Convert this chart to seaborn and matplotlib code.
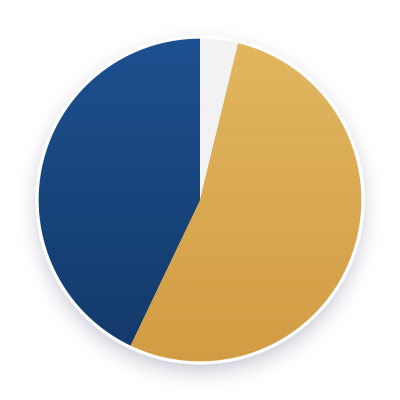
import numpy as np
import matplotlib
matplotlib.use("Agg")
import matplotlib.pyplot as plt
from matplotlib.colors import LinearSegmentedColormap, to_rgb
import seaborn as sns

# slice data (clockwise from 12 o'clock)
labels = ["Other", "Gold", "Blue"]
values = [3.8, 53.3, 42.9]
top_colors = ["#f2f2f3", "#e1b760", "#1d5090"]
bottom_colors = ["#f2f2f3", "#d29c44", "#133968"]

sns.set_theme(style="white")

fig = plt.figure(figsize=(4, 4), dpi=100)
ax = fig.add_axes([0, 0, 1, 1])
lim = 200 / 163
ax.set_xlim(-lim, lim)
ax.set_ylim(-lim, lim)
ax.set_aspect("equal")
ax.axis("off")

# soft drop shadow
n = 400
xs = np.linspace(-lim, lim, n)
X, Y = np.meshgrid(xs, xs)
d = np.hypot(X, Y + 0.05)
a = np.clip(1 - (d - 0.95) / 0.2, 0, 1) ** 2.2 * 0.32
shadow = np.zeros((n, n, 4))
shadow[..., :3] = to_rgb("#5c5f82")
shadow[..., 3] = a
ax.imshow(shadow, extent=(-lim, lim, -lim, lim), origin="lower", zorder=0)

wedges, _ = ax.pie(values, startangle=90, counterclock=False, radius=1,
                   colors=top_colors, wedgeprops=dict(linewidth=0))

grad = np.linspace(0, 1, 256).reshape(-1, 1)
for w, c1, c2 in zip(wedges, top_colors, bottom_colors):
    cmap = LinearSegmentedColormap.from_list("g", [c2, c1])
    im = ax.imshow(grad, cmap=cmap, extent=(-1, 1, -1, 1), origin="lower",
                   aspect="auto", zorder=2)
    im.set_clip_path(w)

border = plt.Circle((0, 0), 1, fill=False, ec="white", lw=2.4, zorder=3)
ax.add_patch(border)
ax.set_xlim(-lim, lim)
ax.set_ylim(-lim, lim)

fig.savefig("out.png", dpi=100, facecolor="white")
